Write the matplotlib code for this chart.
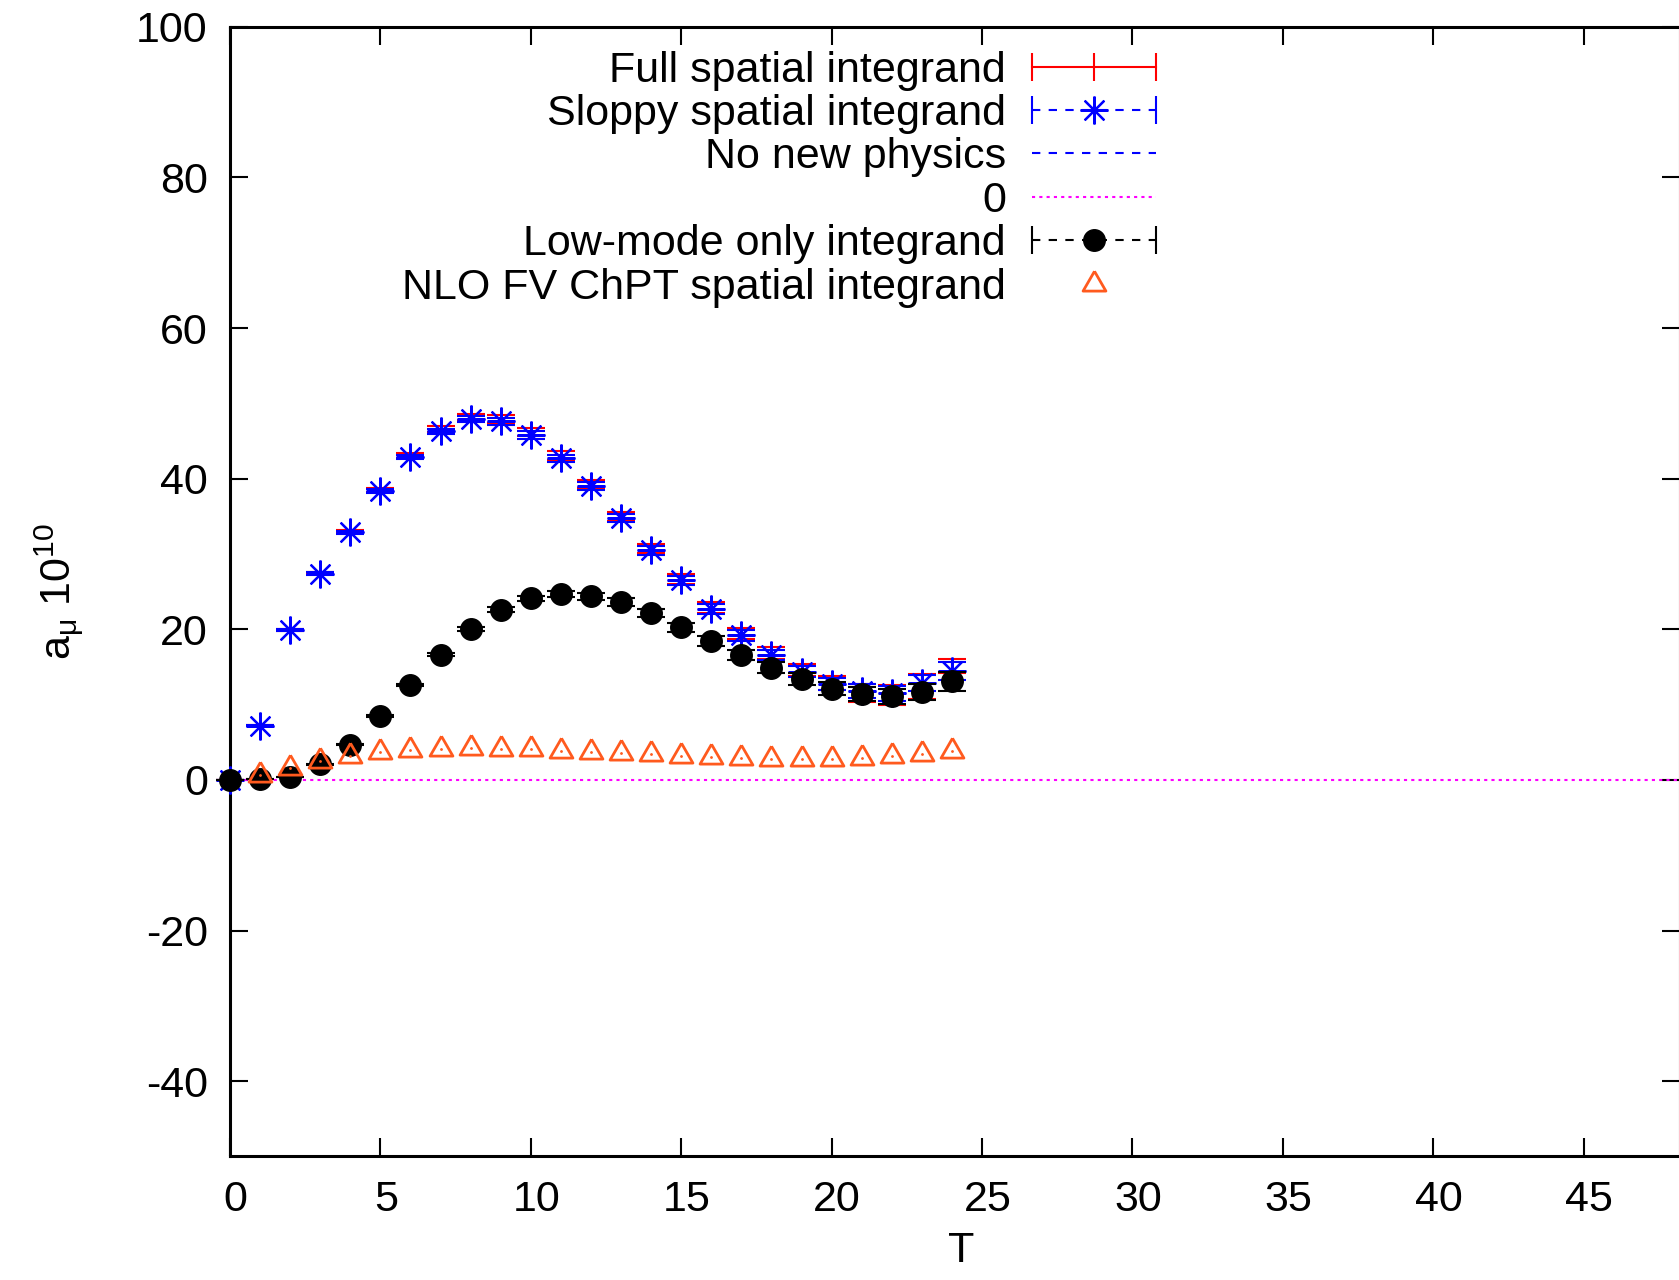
import numpy as np
import matplotlib.pyplot as plt
import matplotlib.transforms as mtransforms
from matplotlib.lines import Line2D
from matplotlib.legend_handler import HandlerLine2D, HandlerTuple

plt.rcParams['font.family'] = ['Liberation Sans', 'DejaVu Sans']
plt.rcParams['mathtext.fontset'] = 'custom'
plt.rcParams['mathtext.rm'] = 'Liberation Sans'
plt.rcParams['mathtext.it'] = 'Liberation Sans:italic'
plt.rcParams['axes.unicode_minus'] = False

# data
T = np.arange(0, 25)
full = [0, 7.2, 19.9, 27.5, 33.0, 38.5, 43.1, 46.6, 48.2, 47.9, 46.2, 43.1, 39.3,
        35.0, 30.7, 26.7, 22.9, 19.4, 16.9, 14.6, 12.9, 11.6, 11.3, 12.4, 15.1]
full_err = [0.02, 0.05, 0.1, 0.15, 0.2, 0.25, 0.3, 0.35, 0.45, 0.5, 0.5, 0.55, 0.55,
            0.6, 0.6, 0.65, 0.7, 0.75, 0.8, 0.85, 0.9, 1.2, 1.35, 1.7, 0.9]
sloppy = [0, 7.2, 19.9, 27.4, 32.9, 38.4, 42.9, 46.3, 47.9, 47.6, 45.8, 42.7, 39.0,
          34.8, 30.5, 26.5, 22.7, 19.2, 16.6, 14.4, 12.8, 11.8, 11.5, 12.9, 14.5]
sloppy_err = [0.02, 0.05, 0.1, 0.15, 0.2, 0.25, 0.3, 0.35, 0.4, 0.45, 0.5, 0.5, 0.55,
              0.55, 0.6, 0.6, 0.65, 0.7, 0.7, 0.75, 0.8, 0.9, 1.0, 1.1, 1.2]
low = [0, 0.1, 0.4, 2.1, 4.7, 8.5, 12.6, 16.6, 20.0, 22.6, 24.1, 24.7, 24.4,
       23.6, 22.2, 20.3, 18.5, 16.6, 14.9, 13.4, 12.1, 11.4, 11.1, 11.7, 13.1]
low_err = [0.01, 0.02, 0.03, 0.05, 0.08, 0.1, 0.15, 0.2, 0.25, 0.3, 0.35, 0.4, 0.45,
           0.5, 0.55, 0.6, 0.65, 0.7, 0.75, 0.8, 0.85, 0.9, 1.0, 1.1, 1.3]
T_nlo = np.arange(1, 25)
nlo = [0.6, 1.6, 2.5, 3.2, 3.7, 4.0, 4.15, 4.2, 4.15, 4.05, 3.9, 3.75,
       3.55, 3.4, 3.2, 3.05, 2.9, 2.8, 2.75, 2.8, 2.95, 3.2, 3.5, 3.9]
xticks = [0, 5, 10, 15, 20, 25, 30, 35, 40, 45]
yticks = [-40, -20, 0, 20, 40, 60, 80, 100]

ORANGE = '#ff5a1e'
FS = 31
asterisk = (8, 2, 0)
tri = [(0, 1), (-0.866, -0.5), (0.866, -0.5), (0, 1)]

fig = plt.figure(figsize=(16.79, 12.8), dpi=100)
ax = fig.add_axes([0.137, 0.0965, 0.8635, 0.8825])

ax.errorbar(T, full, yerr=full_err, fmt='none', ecolor='red', elinewidth=1.5,
            capsize=10, capthick=1.5, clip_on=False, zorder=2)
ax.errorbar(T, sloppy, yerr=sloppy_err, fmt='none', ecolor='blue', elinewidth=1.5,
            capsize=10, capthick=1.5, clip_on=False, zorder=3)
ax.plot(T, sloppy, ls='none', marker=asterisk, ms=20, mew=1.6, color='blue',
        clip_on=False, zorder=3)
ax.axhline(0, color='#ff00ff', lw=1.5, ls=(0, (1.5, 2)), zorder=4)
ax.errorbar(T, low, yerr=low_err, fmt='none', ecolor='black', elinewidth=1.5,
            capsize=10, capthick=1.5, clip_on=False, zorder=5)
ax.plot(T, low, ls='none', marker='o', ms=15.5, color='black', clip_on=False, zorder=5)
ax.plot(T_nlo, nlo, ls='none', marker=tri, ms=19, mfc='none', mec=ORANGE, mew=2,
        clip_on=False, zorder=6)
ax.plot(T_nlo, nlo, ls='none', marker='.', ms=2, color=ORANGE, clip_on=False, zorder=6)

ax.set_xlim(0, 48.2)
ax.set_ylim(-50, 100)
ax.set_xticks(xticks)
ax.set_yticks(yticks)
ax.tick_params(direction='in', length=13, width=1.5, labelsize=FS, pad=16,
               top=True, right=True)
ax.tick_params(axis='x', pad=17)
# gnuplot puts the x tick labels a little to the right of the ticks
shift = mtransforms.ScaledTranslation(4 / 72, 0, fig.dpi_scale_trans)
for lab in ax.get_xticklabels():
    lab.set_transform(lab.get_transform() + shift)
for s in ax.spines.values():
    s.set_linewidth(2.2)

ax.set_xlabel('T', fontsize=FS)
ax.xaxis.set_label_coords(0.504, -0.066)
ax.set_ylabel(r'a$_\mathregular{μ}$ 10$^\mathregular{10}$', fontsize=FS, labelpad=36)

# legend proxies (gnuplot-like samples)
h_full = Line2D([], [], color='red', lw=1.5, marker='|', ms=20, mew=1.5)
h_sl_line = Line2D([], [], color='blue', lw=1.5, ls=(0, (4, 4)), marker='|', ms=20, mew=1.5)
h_sl_pt = Line2D([], [], ls='none', marker=asterisk, ms=20, mew=1.6, color='blue')
h_nonew = Line2D([], [], color='blue', lw=1.5, ls=(0, (4, 4)))
h_zero = Line2D([], [], color='#ff00ff', lw=1.5, ls=(0, (1.5, 2)))
h_low_line = Line2D([], [], color='black', lw=1.5, ls=(0, (4, 4)), marker='|', ms=20, mew=1.5)
h_low_pt = Line2D([], [], ls='none', marker='o', ms=15.5, color='black')
h_nlo = Line2D([], [], ls='none', marker=tri, ms=19, mfc='none', mec=ORANGE, mew=2)

labels = ['Full spatial integrand', 'Sloppy spatial integrand', 'No new physics', '0',
          'Low-mode only integrand', 'NLO FV ChPT spatial integrand']
handles = [h_full, (h_sl_line, h_sl_pt), h_nonew, h_zero, (h_low_line, h_low_pt), h_nlo]
hmap = {h_full: HandlerLine2D(numpoints=3, marker_pad=0),
        h_sl_line: HandlerLine2D(numpoints=2, marker_pad=0),
        h_low_line: HandlerLine2D(numpoints=2, marker_pad=0),
        tuple: HandlerTuple(ndivide=1)}
ax.legend(handles, labels, handler_map=hmap, loc='upper right',
          bbox_to_anchor=(0.639, 0.979), frameon=False, markerfirst=False,
          fontsize=FS, handlelength=2.9, handletextpad=0.6, labelspacing=0.08,
          borderpad=0, borderaxespad=0)

fig.savefig('out.png', dpi=100)
